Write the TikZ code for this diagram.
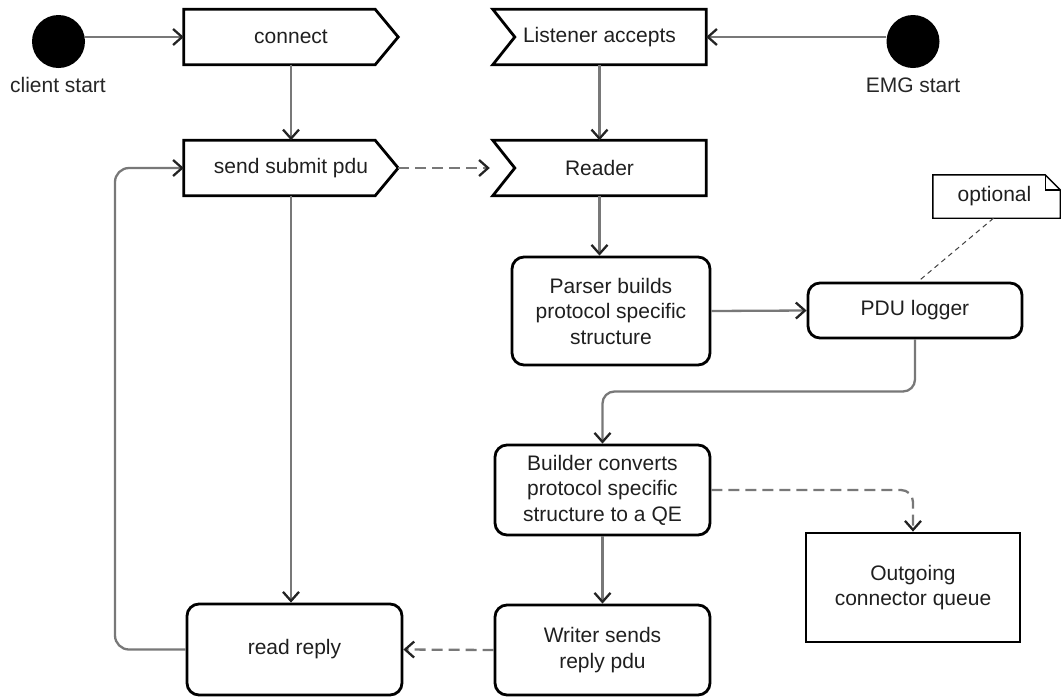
\documentclass[tikz,border=0pt]{standalone}
\usepackage{fontspec}
\setmainfont{Liberation Sans}
\usetikzlibrary{arrows.meta,calc}
\definecolor{linegray}{RGB}{120,120,120}
\definecolor{tipgray}{RGB}{35,35,35}
\begin{document}
\begin{tikzpicture}[x=1pt,y=-1pt,
  every node/.style={font=\fontsize{21}{25.5}\selectfont, inner sep=0pt, align=center, text=black!88},
  box/.style={draw=black, line width=2.8pt, rounded corners=12pt},
  plainbox/.style={draw=black, line width=2.8pt},
  sigbox/.style={minimum width=214pt, minimum height=55pt},
  outline/.style={draw=black, line width=2.8pt, line join=miter},
  conn/.style={draw=linegray, line width=2.3pt, -{Straight Barb[length=9pt,width=16pt,line width=2.3pt,color=tipgray]}},
  dashconn/.style={conn, dash pattern=on 11pt off 6pt},
  startdot/.style={circle, fill=black, minimum size=53pt},
  lbl/.style={text=black!85},
  ]
\useasboundingbox (0,0) rectangle (1061,697);

% start points
\node[startdot] (cs) at (58.5,41.5) {};
\node[lbl] (cslbl) at (58,85) {client start};
\node[startdot] (emg) at (913,41.5) {};
\node[lbl] (emglbl) at (913,85) {EMG start};

% signal shapes
\node[sigbox] (connect) at (291,37) {connect};
\node[sigbox] (send) at (291,168) {send submit pdu};
\node[sigbox, minimum width=213pt] (listener) at (599.5,37) {Listener accepts};
\node[sigbox, minimum width=213pt] (reader) at (599.5,168) {Reader};

\foreach \n in {connect,send}{
  \draw[outline] (\n.north west) -- ($(\n.north east)+(-23,0)$) -- (\n.east)
    -- ($(\n.south east)+(-23,0)$) -- (\n.south west) -- cycle;
}
\foreach \n in {listener,reader}{
  \draw[outline] (\n.north west) -- (\n.north east) -- (\n.south east)
    -- (\n.south west) -- ($(\n.west)+(22,0)$) -- cycle;
}

% process boxes
\node[box, minimum width=198pt, minimum height=108pt] (parser) at (611,311)
  {Parser builds\\protocol specific\\structure};
\node[box, minimum width=214pt, minimum height=55pt] (pdu) at (915,310.5) {PDU logger};
\node[box, minimum width=215pt, minimum height=90pt] (builder) at (602.5,490)
  {Builder converts\\protocol specific\\structure to a QE};
\node[box, minimum width=215pt, minimum height=90pt] (writer) at (602.5,650)
  {Writer sends\\reply pdu};
\node[box, minimum width=215pt, minimum height=91pt] (readreply) at (294.5,649.5) {read reply};
\node[plainbox, minimum width=214pt, minimum height=109pt] (outq) at (913,587.5)
  {Outgoing\\connector queue};

% note
\node[minimum width=127pt, minimum height=43pt] (note) at (996.5,196.5) {\hspace*{-4pt}optional};
\draw[draw=black, line width=1.4pt, line join=miter]
  (note.north west) -- ($(note.north east)+(-15,0)$) -- ($(note.north east)+(0,15)$)
  -- (note.south east) -- (note.south west) -- cycle;
\draw[draw=black, line width=1.4pt, line join=miter]
  ($(note.north east)+(-15,0)$) -- ($(note.north east)+(-15,15)$) -- ($(note.north east)+(0,15)$);

% helper coordinates
\coordinate (m1) at ($(pdu.south)!0.5!(builder.north)$);
\coordinate (loopx) at (115,400);

% connectors
\draw[conn] (cs.east |- connect.west) -- (connect.west);
\draw[conn] (connect.south) -- (send.north);
\draw[conn] (emg.west |- listener.east) -- (listener.east);
\draw[conn] (listener.south) -- (reader.north);
\draw[dashconn] (send.east) -- ($(reader.west)+(-3,0)$);
\draw[conn] (reader.south) -- (reader.south |- parser.north);
\draw[conn] (parser.east) -- (pdu.west);
\draw[conn, rounded corners=12pt] (pdu.south) -- (pdu.south |- m1) -- (builder.north |- m1) -- (builder.north);
\draw[draw=black!75, line width=1pt, dash pattern=on 5pt off 4pt] ([xshift=-3pt]note.south) -- ([xshift=3pt]pdu.north);
\draw[conn] (builder.south) -- (writer.north);
\draw[dashconn, rounded corners=12pt] (builder.east) -- (outq.north |- builder.east) -- (outq.north);
\draw[dashconn] (writer.west) -- (readreply.east);
\draw[conn] (send.south) -- (send.south |- readreply.north);
\draw[conn, rounded corners=14pt] (readreply.west) -- (readreply.west -| loopx) -- (send.west -| loopx) -- (send.west);
\end{tikzpicture}
\end{document}
